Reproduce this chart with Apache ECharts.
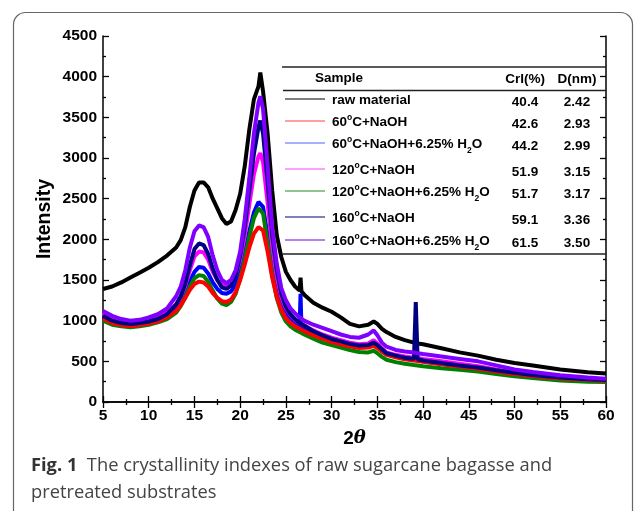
<!DOCTYPE html>
<html>
<head>
<meta charset="utf-8">
<script src="https://cdn.jsdelivr.net/npm/echarts@6/dist/echarts.min.js"></script>
<style>
  html, body { margin: 0; padding: 0; background: #fff; }
  #myChart { width: 635px; height: 511px; }
</style>
</head>
<body>
<div id="myChart"></div>
<script>
// 2theta positions
var twoTheta = [5, 6, 7, 8, 9, 10, 11, 12, 13, 13.5, 14, 14.5, 15, 15.5, 16, 16.5, 17, 17.5, 18, 18.5,
  19, 19.5, 20, 20.5, 21, 21.5, 22, 22.2, 22.5, 23, 23.5, 24, 24.5, 25, 25.5, 26, 26.5, 26.6, 26.7, 27,
  28, 29, 30, 31, 32, 33, 34, 34.6, 35, 35.5, 36, 37, 38, 39, 39.2, 39.4, 40, 42, 44, 46,
  48, 50, 52, 55, 58, 60]

var rawMaterial = [1390, 1420, 1470, 1530, 1590, 1650, 1720, 1800, 1900, 1990, 2150, 2400, 2600, 2700, 2700, 2640, 2500, 2380, 2260, 2190,
  2220, 2360, 2560, 2900, 3350, 3720, 3880, 4050, 3820, 3300, 2600, 2050, 1780, 1600, 1500, 1420, 1370, 1530, 1360, 1320,
  1220, 1160, 1110, 1040, 960, 930, 950, 990, 960, 900, 860, 800, 760, 730, 725, 720, 710, 660, 610, 570,
  520, 480, 450, 400, 365, 350]

var naoh60 = [1030, 970, 945, 935, 945, 965, 990, 1040, 1120, 1190, 1280, 1380, 1450, 1480, 1470, 1420, 1340, 1280, 1240, 1230,
  1260, 1350, 1500, 1690, 1900, 2070, 2150, 2170, 2110, 1850, 1530, 1290, 1130, 1030, 970, 930, 900, 895, 890, 870,
  820, 780, 740, 710, 685, 665, 670, 690, 665, 620, 580, 550, 525, 510, 508, 505, 495, 465, 435, 410,
  375, 345, 320, 290, 272, 262]

var naoh60Water = [1050, 990, 960, 950, 960, 980, 1010, 1060, 1150, 1230, 1340, 1480, 1600, 1660, 1650, 1580, 1470, 1390, 1340, 1330,
  1360, 1440, 1600, 1830, 2100, 2330, 2460, 2480, 2400, 2050, 1680, 1400, 1210, 1090, 1020, 970, 930, 1330, 925, 900,
  850, 800, 760, 730, 700, 680, 690, 720, 690, 640, 590, 560, 535, 520, 518, 515, 500, 470, 440, 415,
  380, 350, 325, 295, 275, 265]

var naoh120 = [1100, 1020, 990, 980, 990, 1010, 1040, 1100, 1200, 1290, 1430, 1620, 1790, 1850, 1840, 1750, 1600, 1500, 1440, 1430,
  1460, 1560, 1750, 2050, 2430, 2800, 3020, 3060, 2950, 2450, 1900, 1530, 1290, 1150, 1070, 1010, 970, 965, 960, 940,
  880, 830, 790, 760, 730, 710, 720, 760, 720, 660, 610, 580, 560, 545, 543, 540, 530, 500, 470, 440,
  400, 360, 335, 305, 285, 275]

var naoh120Water = [1000, 950, 930, 920, 930, 950, 980, 1020, 1100, 1180, 1290, 1420, 1520, 1560, 1550, 1480, 1370, 1270, 1210, 1190,
  1230, 1330, 1520, 1760, 2030, 2260, 2380, 2400, 2320, 1950, 1560, 1280, 1100, 990, 930, 890, 860, 855, 850, 830,
  780, 730, 700, 670, 640, 615, 610, 630, 600, 555, 520, 490, 470, 455, 453, 450, 440, 415, 395, 375,
  345, 315, 295, 265, 250, 245]

var naoh160 = [1060, 1000, 970, 960, 970, 990, 1020, 1080, 1200, 1300, 1460, 1680, 1880, 1950, 1930, 1820, 1640, 1500, 1410, 1390,
  1430, 1560, 1800, 2150, 2600, 3050, 3380, 3460, 3300, 2700, 2050, 1620, 1330, 1170, 1080, 1020, 970, 965, 960, 940,
  870, 820, 775, 745, 715, 695, 700, 730, 700, 650, 600, 570, 545, 530, 1230, 525, 510, 480, 450, 425,
  390, 360, 332, 300, 280, 270]

var naoh160Water = [1120, 1060, 1020, 1000, 1010, 1040, 1080, 1150, 1300, 1420, 1620, 1900, 2100, 2170, 2150, 2030, 1800, 1620, 1500, 1460,
  1500, 1620, 1850, 2250, 2750, 3300, 3680, 3760, 3600, 2900, 2150, 1700, 1400, 1250, 1150, 1090, 1040, 1030, 1020, 1000,
  950, 910, 870, 830, 800, 790, 830, 880, 820, 730, 680, 640, 620, 610, 605, 600, 590, 560, 530, 500,
  450, 400, 370, 330, 300, 285]

// legend table
var sampleNames = [
  '{n|raw material}',
  '{n|60}{s|o}{n|C+NaOH}',
  '{n|60}{s|o}{n|C+NaOH+6.25% H}{b|2}{n|O}',
  '{n|120}{s|o}{n|C+NaOH}',
  '{n|120}{s|o}{n|C+NaOH+6.25% H}{b|2}{n|O}',
  '{n|160}{s|o}{n|C+NaOH}',
  '{n|160}{s|o}{n|C+NaOH+6.25% H}{b|2}{n|O}'
]
var crI = ['40.4', '42.6', '44.2', '51.9', '51.7', '59.1', '61.5']
var dSize = ['2.42', '2.93', '2.99', '3.15', '3.17', '3.36', '3.50']
var lineColors = ['#000000', '#ff0000', '#0000ff', '#ff00ff', '#008000', '#000080', '#8000ff']
var legendColors = ['#000000', '#ff4040', '#5060ff', '#ff40ff', '#228b22', '#000080', '#7000ee']

var seriesData = [rawMaterial, naoh60, naoh60Water, naoh120, naoh120Water, naoh160, naoh160Water]
// drawing order, violet on top
var drawOrder = [0, 2, 3, 4, 1, 5, 6]

var font = 'Liberation Sans, Arial, sans-serif'
var tableFont = 'bold 13.5px ' + font
var rowY = [99, 121, 143, 169, 191, 217, 240]

function pairs(values) {
  var out = []
  for (var i = 0; i < twoTheta.length; i++) {
    out.push([twoTheta[i], values[i]])
  }
  return out
}

var series = []
drawOrder.forEach(function (k) {
  series.push({
    type: 'line',
    xAxisIndex: 0,
    yAxisIndex: 0,
    data: pairs(seriesData[k]),
    showSymbol: false,
    lineStyle: {color: lineColors[k], width: 4},
    itemStyle: {color: lineColors[k]},
    silent: true
  })
})

var richName = {
  n: {fontFamily: font, fontWeight: 'bold', fontSize: 13.5, fill: '#000', lineHeight: 17},
  s: {fontFamily: font, fontWeight: 'bold', fontSize: 8.5, fill: '#000', verticalAlign: 'top'},
  b: {fontFamily: font, fontWeight: 'bold', fontSize: 8.5, fill: '#000', verticalAlign: 'bottom', padding: [0, 0, -3, 0]}
}

var graphic = [
  // outer frame
  {
    type: 'rect', silent: true, z: 0,
    shape: {x: 13.5, y: 12.5, width: 619, height: 520, r: 12},
    style: {fill: 'none', stroke: '#666', lineWidth: 1.2}
  },
  // y axis title
  {
    type: 'text', x: 45, y: 219, rotation: Math.PI / 2, z: 10,
    style: {text: 'Intensity', font: 'bold 19.5px ' + font, fill: '#000', textAlign: 'center', textVerticalAlign: 'middle'}
  },
  {type: 'line', shape: {x1: 282, y1: 67, x2: 606, y2: 67}, style: {stroke: '#222', lineWidth: 1.5}, z: 10},
  {type: 'line', shape: {x1: 283, y1: 90.5, x2: 606, y2: 90.5}, style: {stroke: '#222', lineWidth: 1.5}, z: 10},
  {type: 'line', shape: {x1: 282, y1: 254, x2: 606, y2: 254}, style: {stroke: '#222', lineWidth: 1.5}, z: 10},
  {type: 'text', x: 339, y: 78, z: 10, style: {text: 'Sample', font: tableFont, fill: '#000', textAlign: 'center', textVerticalAlign: 'middle'}},
  {type: 'text', x: 525, y: 79, z: 10, style: {text: 'CrI(%)', font: tableFont, fill: '#000', textAlign: 'center', textVerticalAlign: 'middle'}},
  {type: 'text', x: 577, y: 79, z: 10, style: {text: 'D(nm)', font: tableFont, fill: '#000', textAlign: 'center', textVerticalAlign: 'middle'}},
  // caption
  {
    type: 'text', x: 31, y: 452, z: 10,
    style: {
      text: '{f|Fig. 1}{t|  The crystallinity indexes of raw sugarcane bagasse and}\n{t|pretreated substrates}',
      rich: {
        f: {fontFamily: 'Open Sans', fontWeight: 'bold', fontSize: 18.3, fill: '#333', lineHeight: 27},
        t: {fontFamily: 'Open Sans', fontWeight: 'normal', fontSize: 18.3, fill: '#444', lineHeight: 27}
      }
    }
  }
]

for (var i = 0; i < sampleNames.length; i++) {
  graphic.push({type: 'line', z: 10, shape: {x1: 285, y1: rowY[i], x2: 325, y2: rowY[i]}, style: {stroke: legendColors[i], lineWidth: 1.2}})
  graphic.push({type: 'text', z: 10, x: 332, y: rowY[i] + 1, style: {text: sampleNames[i], rich: richName, textVerticalAlign: 'middle'}})
  graphic.push({type: 'text', z: 10, x: 525, y: rowY[i] + 3, style: {text: crI[i], font: tableFont, fill: '#000', textAlign: 'center', textVerticalAlign: 'middle'}})
  graphic.push({type: 'text', z: 10, x: 577, y: rowY[i] + 3, style: {text: dSize[i], font: tableFont, fill: '#000', textAlign: 'center', textVerticalAlign: 'middle'}})
}

var axisLine = {show: true, lineStyle: {color: '#000', width: 1.5}}
var tickStyle = {inside: true, length: 6, lineStyle: {color: '#000', width: 1.3}}
var minorStyle = {show: true, splitNumber: 2, length: 3, lineStyle: {color: '#000', width: 1.3}}
var labelStyle = {fontFamily: font, fontWeight: 'bold', fontSize: 15.5, color: '#000', margin: 6}

var option = {
  animation: false,
  backgroundColor: '#fff',
  grid: {left: 103, top: 36, right: 29, bottom: 109, containLabel: false},
  xAxis: [
    {
      type: 'value', min: 5, max: 60, interval: 5, position: 'bottom',
      name: '{a|2}{b|θ}', nameLocation: 'middle', nameGap: 26,
      nameTextStyle: {
        rich: {
          a: {fontFamily: font, fontWeight: 'bold', fontSize: 19, color: '#000'},
          b: {fontFamily: 'DejaVu Serif', fontStyle: 'italic', fontWeight: 'bold', fontSize: 18, color: '#000'}
        }
      },
      axisLine: axisLine,
      axisTick: tickStyle,
      minorTick: minorStyle,
      axisLabel: labelStyle,
      splitLine: {show: false}
    },
    {
      type: 'value', min: 5, max: 60, interval: 5, position: 'top',
      axisLine: axisLine,
      axisTick: tickStyle,
      minorTick: minorStyle,
      axisLabel: {show: false},
      splitLine: {show: false}
    }
  ],
  yAxis: [
    {
      type: 'value', min: 0, max: 4500, interval: 500, position: 'left',
      axisLine: axisLine,
      axisTick: tickStyle,
      minorTick: minorStyle,
      axisLabel: Object.assign({formatter: function (v) { return String(v) }}, labelStyle),
      splitLine: {show: false}
    },
    {
      type: 'value', min: 0, max: 4500, interval: 500, position: 'right',
      axisLine: axisLine,
      axisTick: tickStyle,
      minorTick: minorStyle,
      axisLabel: {show: false},
      splitLine: {show: false}
    }
  ],
  series: series,
  graphic: graphic
}

var myChart = echarts.init(document.getElementById('myChart'), null, {renderer: 'canvas'})
myChart.setOption(option)
</script>
</body>
</html>
